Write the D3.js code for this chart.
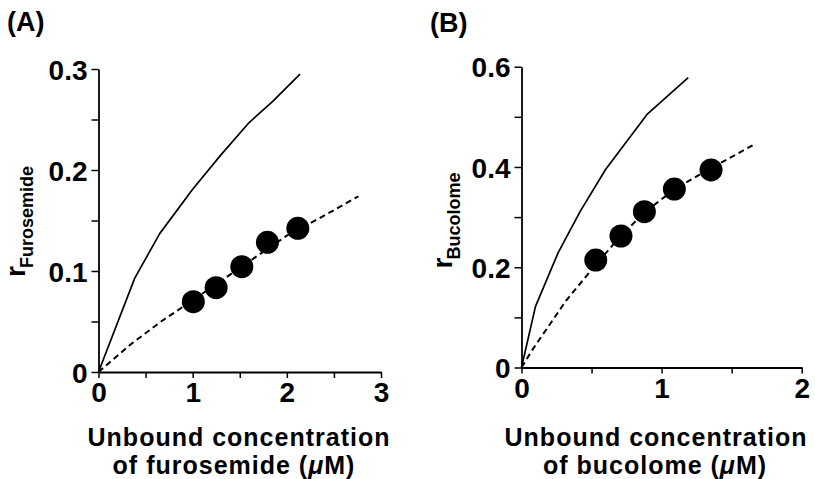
<!DOCTYPE html>
<html>
<head>
<meta charset="utf-8">
<script src="https://cdn.jsdelivr.net/npm/d3@7"></script>
<style>
  html, body { margin: 0; padding: 0; background: #fff; }
  svg { display: block; }
  text { font-family: "Liberation Sans", Arial, Helvetica, sans-serif; font-weight: bold; fill: #000; }
</style>
</head>
<body>
<svg id="chart" width="815" height="479"></svg>
<script>
// ---------- Data ----------
// Panel A: furosemide
const furoSolidX  = [0, 0.385, 0.65, 1.0, 1.3, 1.6, 1.85, 2.14];
const furoSolidY  = [0, 0.093, 0.137, 0.181, 0.215, 0.247, 0.268, 0.295];
const furoDashX   = [0, 0.35, 0.68, 1.0, 1.5, 2.0, 2.4, 2.76];
const furoDashY   = [0, 0.028, 0.051, 0.071, 0.103, 0.135, 0.155, 0.174];
const furoPointX  = [1.007, 1.249, 1.522, 1.794, 2.117];
const furoPointY  = [0.0696, 0.0835, 0.1043, 0.1284, 0.1423];
const furoXTicks  = [0, 0.5, 1, 1.5, 2, 2.5, 3];
const furoYTicks  = [0, 0.05, 0.1, 0.15, 0.2, 0.25, 0.3];

// Panel B: bucolome
const bucoSolidX  = [0, 0.1, 0.26, 0.42, 0.6, 0.9, 1.19];
const bucoSolidY  = [0, 0.122, 0.228, 0.312, 0.395, 0.506, 0.578];
const bucoDashX   = [0, 0.084, 0.32, 0.5, 0.7, 0.88, 1.1, 1.35, 1.655];
const bucoDashY   = [0, 0.038, 0.134, 0.195, 0.26, 0.31, 0.357, 0.397, 0.444];
const bucoPointX  = [0.53, 0.71, 0.877, 1.091, 1.353];
const bucoPointY  = [0.2144, 0.2623, 0.3108, 0.356, 0.394];
const bucoXTicks  = [0, 0.5, 1, 1.5, 2];
const bucoYTicks  = [0, 0.1, 0.2, 0.3, 0.4, 0.5, 0.6];

const svg = d3.select("#chart");
const FONT = "'Liberation Sans', Arial, Helvetica, sans-serif";

function zip(xs, ys) { return xs.map((x, i) => [x, ys[i]]); }

function drawPanel(cfg) {
  const g = svg.append("g");
  const x = d3.scaleLinear().domain(cfg.xDomain).range(cfg.xRange);
  const y = d3.scaleLinear().domain(cfg.yDomain).range(cfg.yRange);

  const isMultiple = (v, step) => Math.abs(v / step - Math.round(v / step)) < 1e-6;

  // X axis
  const xAxis = d3.axisBottom(x)
    .tickValues(cfg.xTicks)
    .tickSize(6).tickSizeOuter(0).tickPadding(5)
    .tickFormat(d => isMultiple(d, 1) ? d3.format("d")(d) : "");
  const gx = g.append("g").attr("transform", `translate(0,${cfg.yRange[0]})`).call(xAxis);

  // Y axis
  const yAxis = d3.axisLeft(y)
    .tickValues(cfg.yTicks)
    .tickSize(7).tickSizeOuter(0).tickPadding(4)
    .tickFormat(d => isMultiple(d, cfg.yLabelStep) ? (d === 0 ? "0" : d3.format(".1f")(d)) : "");
  const gy = g.append("g").attr("transform", `translate(${cfg.xRange[0]},0)`).call(yAxis);

  [gx, gy].forEach(a => {
    a.select(".domain").attr("stroke", "#000").attr("stroke-width", 1.8);
    a.selectAll(".tick line").attr("stroke", "#000").attr("stroke-width", 1.5);
    a.selectAll(".tick text").attr("font-size", 28).attr("font-weight", "bold")
      .attr("font-family", FONT).attr("fill", "#000");
  });
  gx.selectAll(".tick text").attr("dy", "0.69em");
  gy.selectAll(".tick text").attr("dy", "0.36em");

  const line = d3.line().x(d => x(d[0])).y(d => y(d[1]));

  // Solid curve
  g.append("path").datum(zip(cfg.solidX, cfg.solidY))
    .attr("d", line).attr("fill", "none").attr("stroke", "#000").attr("stroke-width", 1.7)
    .attr("stroke-linejoin", "round");

  // Dashed curve
  g.append("path").datum(zip(cfg.dashX, cfg.dashY))
    .attr("d", line).attr("fill", "none").attr("stroke", "#000").attr("stroke-width", 2)
    .attr("stroke-dasharray", "6,4");

  // Points
  g.selectAll("circle.pt").data(zip(cfg.pointX, cfg.pointY)).enter().append("circle")
    .attr("class", "pt")
    .attr("cx", d => x(d[0])).attr("cy", d => y(d[1])).attr("r", 11.5)
    .attr("fill", "#000");

  // Panel label
  g.append("text").attr("x", cfg.panelPos[0]).attr("y", cfg.panelPos[1])
    .attr("font-size", 27).text(cfg.panelLabel);

  // Y label (rotated r with subscript)
  const yl = g.append("text")
    .attr("transform", `translate(${cfg.yLabelPos[0]},${cfg.yLabelPos[1]}) rotate(-90)`)
    .attr("font-size", 28);
  yl.append("tspan").text("r");
  yl.append("tspan").attr("dy", 8).attr("dx", -2).attr("font-size", 18).text(cfg.yLabelSub);

  // X label (two lines)
  g.append("text").attr("x", cfg.xTitle1[0]).attr("y", cfg.xTitle1[1])
    .attr("text-anchor", "middle").attr("font-size", 25).attr("letter-spacing", 1)
    .text("Unbound concentration");
  const t2 = g.append("text").attr("x", cfg.xTitle2[0]).attr("y", cfg.xTitle2[1])
    .attr("text-anchor", "middle").attr("font-size", 25).attr("letter-spacing", 1);
  t2.append("tspan").text(`of ${cfg.drug} (`);
  t2.append("tspan").attr("font-style", "italic").text("\u03BC");
  t2.append("tspan").text("M)");
}

drawPanel({
  xDomain: [0, 3], xRange: [98.5, 381],
  yDomain: [0, 0.3], yRange: [372, 69],
  xTicks: furoXTicks, yTicks: furoYTicks, yLabelStep: 0.1,
  solidX: furoSolidX, solidY: furoSolidY,
  dashX: furoDashX, dashY: furoDashY,
  pointX: furoPointX, pointY: furoPointY,
  panelLabel: "(A)", panelPos: [7, 31],
  yLabelSub: "Furosemide", yLabelPos: [25, 277],
  xTitle1: [239, 446], xTitle2: [234, 474], drug: "furosemide"
});

drawPanel({
  xDomain: [0, 2], xRange: [521.5, 801.7],
  yDomain: [0, 0.6], yRange: [367.5, 66.7],
  xTicks: bucoXTicks, yTicks: bucoYTicks, yLabelStep: 0.2,
  solidX: bucoSolidX, solidY: bucoSolidY,
  dashX: bucoDashX, dashY: bucoDashY,
  pointX: bucoPointX, pointY: bucoPointY,
  panelLabel: "(B)", panelPos: [430, 31.5],
  yLabelSub: "Bucolome", yLabelPos: [451.7, 268.5],
  xTitle1: [656, 446], xTitle2: [655, 474], drug: "bucolome"
});
</script>
</body>
</html>
